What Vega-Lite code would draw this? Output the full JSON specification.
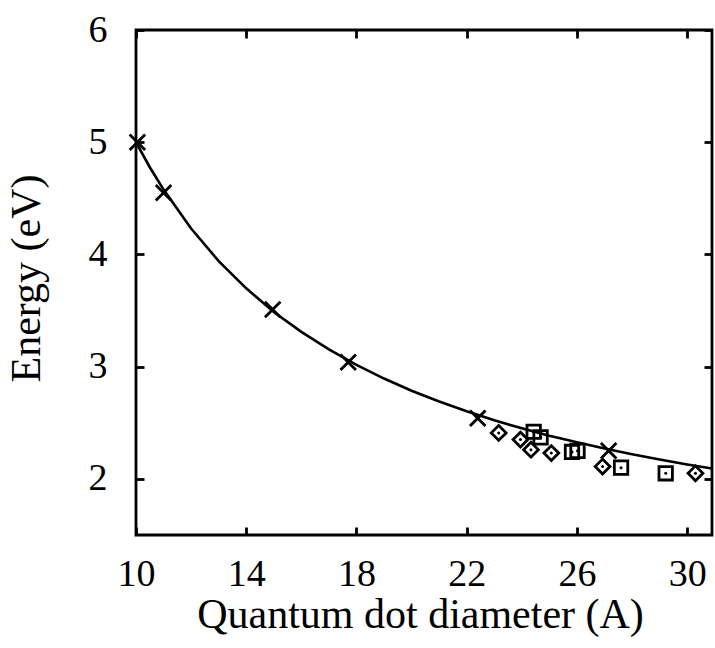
{
  "$schema": "https://vega.github.io/schema/vega-lite/v6.json",
  "width": 576,
  "height": 505,
  "autosize": {"type": "none"},
  "padding": {"left": 136, "top": 30, "right": 3, "bottom": 113},
  "background": "white",
  "config": {
    "view": {"stroke": "black", "strokeWidth": 2.8},
    "axis": {
      "grid": false,
      "domain": false,
      "tickColor": "black",
      "tickWidth": 2.8,
      "tickSize": -8,
      "labelFont": "Liberation Serif",
      "labelFontSize": 38,
      "labelColor": "black",
      "labelFlush": false,
      "labelOverlap": false,
      "titleFont": "Liberation Serif",
      "titleFontSize": 42,
      "titleFontWeight": "normal",
      "titleColor": "black"
    }
  },
  "datasets": {
    "curve": [
      {"d": 10, "E": 5.0},
      {"d": 10.5, "E": 4.777},
      {"d": 11, "E": 4.578},
      {"d": 12, "E": 4.231},
      {"d": 13, "E": 3.941},
      {"d": 14, "E": 3.698},
      {"d": 15, "E": 3.487},
      {"d": 16, "E": 3.31},
      {"d": 17, "E": 3.154},
      {"d": 18, "E": 3.016},
      {"d": 19, "E": 2.894},
      {"d": 20, "E": 2.786},
      {"d": 21, "E": 2.689},
      {"d": 22, "E": 2.602},
      {"d": 23, "E": 2.522},
      {"d": 24, "E": 2.451},
      {"d": 25, "E": 2.385},
      {"d": 26, "E": 2.326},
      {"d": 27, "E": 2.271},
      {"d": 28, "E": 2.22},
      {"d": 29, "E": 2.173},
      {"d": 30, "E": 2.129},
      {"d": 30.9, "E": 2.092}
    ],
    "crosses": [
      {"d": 10.05, "E": 5.0},
      {"d": 11.0, "E": 4.55},
      {"d": 14.96, "E": 3.51},
      {"d": 17.7, "E": 3.04},
      {"d": 22.4, "E": 2.54},
      {"d": 27.15, "E": 2.25}
    ],
    "diamonds": [
      {"d": 23.16, "E": 2.41},
      {"d": 23.95, "E": 2.35},
      {"d": 24.33, "E": 2.26},
      {"d": 25.07, "E": 2.23},
      {"d": 26.93, "E": 2.11},
      {"d": 30.3, "E": 2.05}
    ],
    "squares": [
      {"d": 24.43, "E": 2.42},
      {"d": 24.68, "E": 2.37},
      {"d": 25.82, "E": 2.24},
      {"d": 26.02, "E": 2.25},
      {"d": 27.6, "E": 2.1},
      {"d": 29.22, "E": 2.05}
    ]
  },
  "layer": [
    {
      "data": {"name": "curve"},
      "mark": {"type": "line", "color": "black", "strokeWidth": 2.6, "clip": true},
      "encoding": {
        "x": {
          "field": "d", "type": "quantitative",
          "scale": {"domain": [10, 30.9], "nice": false, "zero": false},
          "axis": {
            "orient": "bottom",
            "values": [10, 14, 18, 22, 26, 30],
            "labelPadding": 28,
            "title": "Quantum dot diameter (A)",
            "titleX": 284,
            "titleY": 92,
            "titleBaseline": "alphabetic",
            "titleAnchor": "middle"
          }
        },
        "y": {
          "field": "E", "type": "quantitative",
          "scale": {"domain": [1.5, 6], "nice": false, "zero": false},
          "axis": {
            "orient": "left",
            "values": [2, 3, 4, 5, 6],
            "labelPadding": 37,
            "labelBaseline": "middle",
            "title": "Energy (eV)",
            "titleX": -110,
            "titleY": 248,
            "titleAngle": -90,
            "titleAlign": "center",
            "titleBaseline": "middle"
          }
        }
      }
    },
    {
      "data": {"name": "crosses"},
      "mark": {"type": "point", "shape": "M-1,-1L1,1M-1,1L1,-1", "filled": false, "stroke": "black", "strokeWidth": 2.8, "size": 240, "opacity": 1},
      "encoding": {
        "x": {"field": "d", "type": "quantitative",
          "axis": {"orient": "top", "values": [10, 14, 18, 22, 26, 30], "labels": false, "title": null}},
        "y": {"field": "E", "type": "quantitative",
          "axis": {"orient": "right", "values": [2, 3, 4, 5, 6], "labels": false, "title": null}}
      }
    },
    {
      "data": {"name": "diamonds"},
      "mark": {"type": "point", "shape": "diamond", "filled": false, "stroke": "black", "strokeWidth": 2.8, "size": 220, "opacity": 1},
      "encoding": {
        "x": {"field": "d", "type": "quantitative", "axis": null},
        "y": {"field": "E", "type": "quantitative", "axis": null}
      }
    },
    {
      "data": {"name": "squares"},
      "mark": {"type": "point", "shape": "square", "filled": false, "stroke": "black", "strokeWidth": 2.8, "size": 180, "opacity": 1},
      "encoding": {
        "x": {"field": "d", "type": "quantitative", "axis": null},
        "y": {"field": "E", "type": "quantitative", "axis": null}
      }
    },
    {
      "data": {"name": "diamonds"},
      "mark": {"type": "point", "shape": "circle", "filled": true, "color": "black", "size": 9, "opacity": 1},
      "encoding": {
        "x": {"field": "d", "type": "quantitative", "axis": null},
        "y": {"field": "E", "type": "quantitative", "axis": null}
      }
    },
    {
      "data": {"name": "squares"},
      "mark": {"type": "point", "shape": "circle", "filled": true, "color": "black", "size": 9, "opacity": 1},
      "encoding": {
        "x": {"field": "d", "type": "quantitative", "axis": null},
        "y": {"field": "E", "type": "quantitative", "axis": null}
      }
    }
  ],
  "resolve": {"axis": {"x": "independent", "y": "independent"}}
}
